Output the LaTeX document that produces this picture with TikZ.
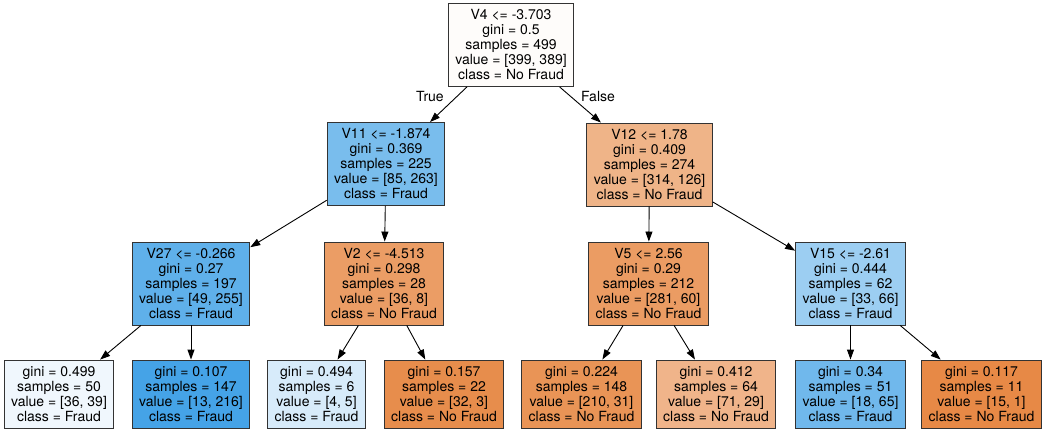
\documentclass[tikz,border=0pt]{standalone}
\usepackage{fontspec}
\setmainfont{TeX Gyre Heros}
\usetikzlibrary{arrows.meta,shapes}
\definecolor{croot}{RGB}{254,252,250}
\definecolor{cvone}{RGB}{121,189,237}
\definecolor{cvtwo}{RGB}{239,180,136}
\definecolor{cvtwoseven}{RGB}{95,176,234}
\definecolor{cvtwob}{RGB}{235,157,101}
\definecolor{cvfive}{RGB}{235,156,99}
\definecolor{cvfifteen}{RGB}{156,206,242}
\definecolor{cla}{RGB}{240,247,253}
\definecolor{clb}{RGB}{69,163,231}
\definecolor{clc}{RGB}{215,235,250}
\definecolor{cld}{RGB}{231,141,76}
\definecolor{cle}{RGB}{233,148,86}
\definecolor{clf}{RGB}{240,180,138}
\definecolor{clg}{RGB}{112,184,236}
\definecolor{clh}{RGB}{231,137,70}
\tikzstyle{treenode}=[rectangle,draw=black!80,line width=0.9pt,align=center,inner xsep=7pt,inner ysep=0pt,font=\fontsize{14}{15}\selectfont]
\tikzstyle{split}=[treenode,minimum height=83pt]
\tikzstyle{leaf}=[treenode,minimum height=68pt]
\tikzstyle{edge} = [draw,line width=0.9pt,-{Triangle[length=10pt,width=7pt]}]
\tikzstyle{branch} = [font=\fontsize{14}{15}\selectfont]

\begin{document}
\begin{tikzpicture}[x=1pt,y=-1pt]

    \useasboundingbox (0,0) rectangle (1048,433);

    % split nodes
     \foreach \x/\y/\name/\col/\txt in {
        511/45/root/croot/{V4 <= -3.703\\gini = 0.5\\samples = 499\\value = [399, 389]\\class = No Fraud},
        386/164/vone/cvone/{V11 <= -1.874\\gini = 0.369\\samples = 225\\value = [85, 263]\\class = Fraud},
        649.5/164.5/vtwo/cvtwo/{V12 <= 1.78\\gini = 0.409\\samples = 274\\value = [314, 126]\\class = No Fraud},
        191/283.5/vtwoseven/cvtwoseven/{V27 <= -0.266\\gini = 0.27\\samples = 197\\value = [49, 255]\\class = Fraud},
        384/283.5/vtwob/cvtwob/{V2 <= -4.513\\gini = 0.298\\samples = 28\\value = [36, 8]\\class = No Fraud},
        648.5/283.5/vfive/cvfive/{V5 <= 2.56\\gini = 0.29\\samples = 212\\value = [281, 60]\\class = No Fraud},
        850.5/283.5/vfifteen/cvfifteen/{V15 <= -2.61\\gini = 0.444\\samples = 62\\value = [33, 66]\\class = Fraud}}
        \node[split, fill=\col] (\name) at (\x,\y) {\txt};

    % leaves
     \foreach \x/\y/\name/\col/\txt in {
        59/394/la/cla/{gini = 0.499\\samples = 50\\value = [36, 39]\\class = Fraud},
        191/394/lb/clb/{gini = 0.107\\samples = 147\\value = [13, 216]\\class = Fraud},
        316.5/394/lc/clc/{gini = 0.494\\samples = 6\\value = [4, 5]\\class = Fraud},
        444/394/ld/cld/{gini = 0.157\\samples = 22\\value = [32, 3]\\class = No Fraud},
        581.5/394/le/cle/{gini = 0.224\\samples = 148\\value = [210, 31]\\class = No Fraud},
        716/394/lf/clf/{gini = 0.412\\samples = 64\\value = [71, 29]\\class = No Fraud},
        850.5/394/lg/clg/{gini = 0.34\\samples = 51\\value = [18, 65]\\class = Fraud},
        981.5/394/lh/clh/{gini = 0.117\\samples = 11\\value = [15, 1]\\class = No Fraud}}
        \node[leaf, fill=\col] (\name) at (\x,\y) {\txt};

    \foreach \source/ \dest in {root/vone, root/vtwo, vone/vtwoseven, vone/vtwob, vtwo/vfive, vtwo/vfifteen,
        vtwoseven/la, vtwoseven/lb, vtwob/lc, vtwob/ld, vfive/le, vfive/lf, vfifteen/lg, vfifteen/lh}
        \path[edge] (\source) -- (\dest);

   \node[branch] (truelabel) at (430,97) {True};
   \node[branch] (falselabel) at (598,97) {False};

\end{tikzpicture}
\end{document}
